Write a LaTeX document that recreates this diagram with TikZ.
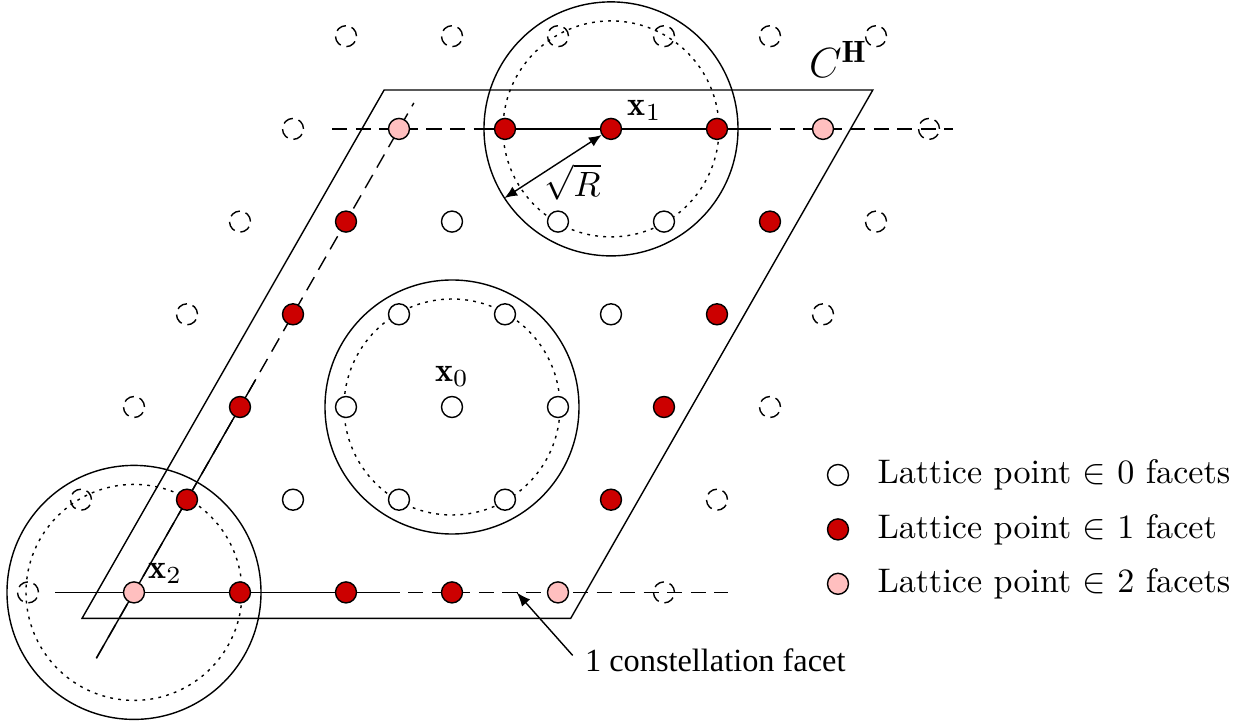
\documentclass[tikz,border=0pt]{standalone}
\usepackage{fontspec}
\usepackage{amssymb}
\usetikzlibrary{positioning, backgrounds, arrows.meta}
\newfontfamily\timesfont{Liberation Serif}
\definecolor{facetred}{RGB}{204,0,0}
\definecolor{facetpink}{RGB}{255,191,191}
\tikzset{
  lat/.style={circle, draw, minimum size=0.21cm, inner sep=0pt},
  pt0/.style={lat, fill=white},
  pt1/.style={lat, fill=facetred},
  pt2/.style={lat, fill=facetpink},
  ptout/.style={lat, dash pattern=on 3pt off 1.7pt},
  facetline/.style={dash pattern=on 4.3pt off 2.4pt},
  sphere/.style={dash pattern=on 0.8pt off 1.5pt},
}
\begin{document}
\begin{tikzpicture}[x={(1.06cm,0cm)}, y={(0.53cm,0.927cm)}, font=\fontsize{9.7}{12}\selectfont]
\useasboundingbox (-4.52cm,-3.15cm) rectangle (7.95cm,4.07cm);
% lattice points outside C^H
\foreach \j in {-2,...,3} {
  \node[ptout] (p-3_\j) at (-3,\j) {};
  \node[ptout] (p3_\j) at (3,\j) {};
}
\foreach \i in {-3,...,2}
  \node[ptout] (p\i_4) at (\i,4) {};
% inner points, points on one facet, corners
\foreach \i in {-1,0,1} \foreach \j in {-1,...,2}
  \node[pt0] (p\i_\j) at (\i,\j) {};
\foreach \j in {-1,...,2} {
  \node[pt1] (p-2_\j) at (-2,\j) {};
  \node[pt1] (p2_\j) at (2,\j) {};
}
\foreach \i in {-1,0,1} {
  \node[pt1] (p\i_-2) at (\i,-2) {};
  \node[pt1] (p\i_3) at (\i,3) {};
}
\foreach \i/\j in {-2/-2, 2/-2, -2/3, 2/3}
  \node[pt2] (p\i_\j) at (\i,\j) {};

\coordinate (cBL) at (-2.35,-2.28);
\coordinate (cBR) at (2.26,-2.28);
\coordinate (cTR) at (2.26,3.42);
\coordinate (cTL) at (-2.35,3.42);
\coordinate (botA) at (-2.745,-2);
\coordinate (botB) at (0.46,-2);
\coordinate (botC) at (3.6,-2);
\coordinate (topA) at (-2.63,3);
\coordinate (topB) at (-1.21,3);
\coordinate (topC) at (1.45,3);
\coordinate (topD) at (3.23,3);
\coordinate (slA) at (-2,-2.71);
\coordinate (slB) at (-2,0.29);
\coordinate (slC) at (-2,3.28);

\begin{scope}[on background layer]
  \draw (cBL) -- (cBR) -- (cTR) -- (cTL) -- cycle;
  \foreach \c in {p0_0, p0_3, p-2_-2} {
    \draw (\c) circle[radius=1.27cm];
    \draw[sphere] (\c) circle[radius=1.08cm];
  }
  \draw[facetline] (botA) -- (botC);
  \draw (botA) -- (botB);
  \draw[facetline] (topA) -- (topD);
  \draw (topB) -- (topC);
  \draw[facetline] (slA) -- (slC);
  \draw (slA) -- (slB);
\end{scope}

\node[above=-1pt of p0_0] (x0lbl) {$\mathbf{x}_0$};
\node[above right=-3.5pt and -1pt of p0_3] (x1lbl) {$\mathbf{x}_1$};
\node[above right=-3.3pt and -1.7pt of p-2_-2] (x2lbl) {$\mathbf{x}_2$};
\node[above left=0pt and -2pt of cTR, font=\fontsize{12.5}{15}\selectfont] (chlbl) {$C^{\mathbf{H}}$};

% radius of the sphere
\path (p0_3.center) ++(213:1.27cm) coordinate (rEnd);
\draw[{Latex[length=3.6pt,width=3pt]}-{Latex[length=3.6pt,width=3pt]}] (p0_3) -- (rEnd)
  node[pos=0.45, below right=-3.4pt and -7.4pt] (rlbl) {$\sqrt{R}$};

\coordinate (facetPt) at (1.61,-2);
\node[anchor=west, font=\timesfont\fontsize{9.2}{11}\selectfont] (facetlbl) at ([shift={(0.56cm,-0.68cm)}]facetPt) {1 constellation facet};
\draw[-latex] (facetlbl.178) -- (facetPt);

% legend
\node[pt0] (lg0) at (3.86cm,-0.68cm) {};
\node[pt1, below=0.32cm of lg0] (lg1) {};
\node[pt2, below=0.32cm of lg1] (lg2) {};
\node[right=0.16cm of lg0] (lt0) {Lattice point $\in$ 0 facets};
\node[right=0.16cm of lg1] (lt1) {Lattice point $\in$ 1 facet};
\node[right=0.16cm of lg2] (lt2) {Lattice point $\in$ 2 facets};
\end{tikzpicture}
\end{document}
